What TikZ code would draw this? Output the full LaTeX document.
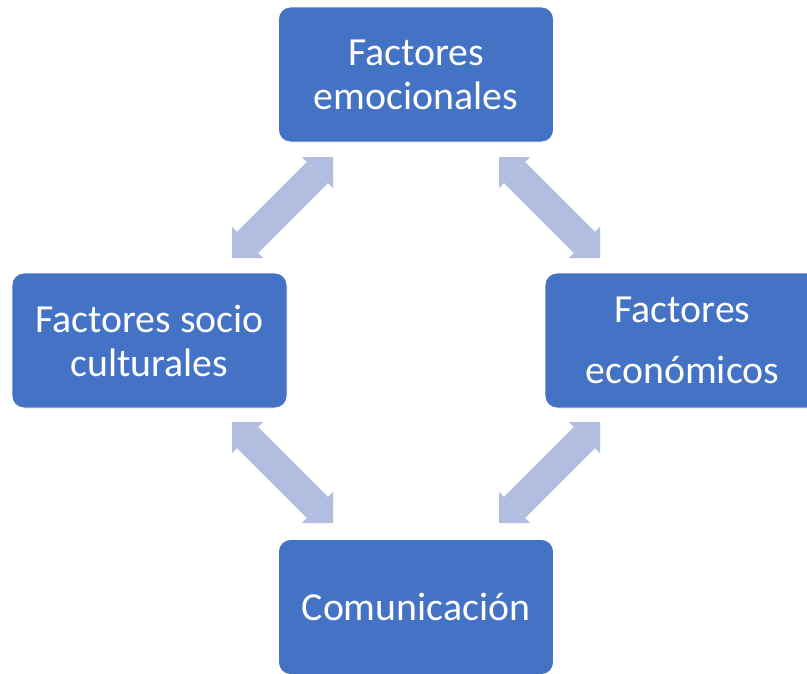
\documentclass[tikz,border=0pt]{standalone}
\usepackage{fontspec}
\setmainfont{Carlito}
\usetikzlibrary{arrows.meta}
\definecolor{boxblue}{RGB}{68,114,196}
\definecolor{arrowblue}{RGB}{177,190,224}
\begin{document}
\begin{tikzpicture}[x=1pt,y=-1pt,
  box/.style={draw=white, line width=0.8pt, fill=boxblue, rounded corners=12pt,
    minimum width=275pt, minimum height=135pt, inner sep=0pt, align=center,
    text=white, font=\fontsize{39.8}{44}\selectfont},
  conn/.style={draw=arrowblue, line width=30pt,
    {Triangle[width=44pt,length=22pt,line width=0pt]}-{Triangle[width=44pt,length=22pt,line width=0pt]}}]
\clip (0,0) rectangle (807,673);
\fill[white] (0,0) rectangle (807,673);
\node[box] (emo) at (416,74.5) {Factores\\emocionales};
\node[box] (soc) at (149.5,340.5) {Factores socio\\culturales};
\node[box] (eco) at (682.5,340.5) {Factores\\[17pt]económicos};
\node[box] (com) at (416,607) {Comunicación};
\coordinate (a1) at (333,157);
\coordinate (a2) at (232,258);
\coordinate (b1) at (499,157);
\coordinate (b2) at (600,258);
\coordinate (c1) at (232,422);
\coordinate (c2) at (333,523);
\coordinate (d1) at (600,422);
\coordinate (d2) at (499,523);
\draw[conn] (a1) -- (a2);
\draw[conn] (b1) -- (b2);
\draw[conn] (c1) -- (c2);
\draw[conn] (d1) -- (d2);
\end{tikzpicture}
\end{document}
